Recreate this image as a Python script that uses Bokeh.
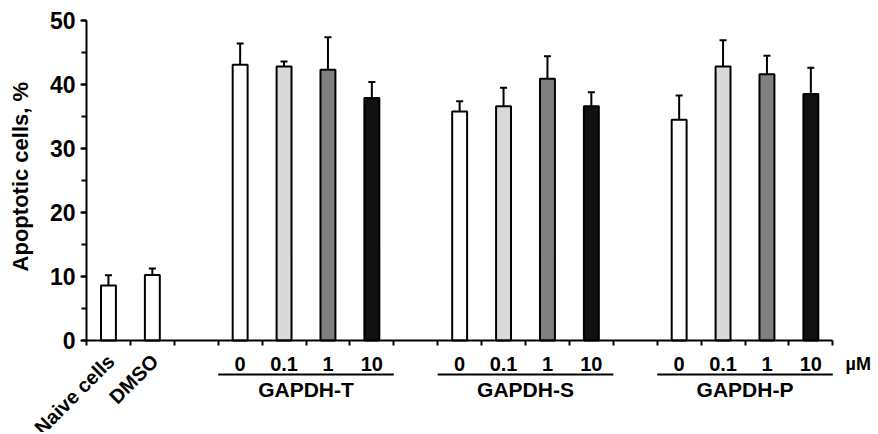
from bokeh.plotting import figure
from bokeh.models import (LinearAxis, FixedTicker, SingleIntervalTicker, Range1d,
                          ColumnDataSource, Whisker, TeeHead)
from bokeh.core.properties import value
from bokeh.embed import file_html
from bokeh.resources import INLINE

# ---------------- data ----------------
controls = ["Naive cells", "DMSO"]
control_means = [8.6, 10.25]
control_errs = [1.6, 1.0]

doses = ["0", "0.1", "1", "10"]
dose_unit = "µM"
groups = ["GAPDH-T", "GAPDH-S", "GAPDH-P"]
gapdh_t = [43.1, 42.8, 42.3, 37.9]
gapdh_t_err = [3.3, 0.8, 5.1, 2.5]
gapdh_s = [35.8, 36.6, 40.9, 36.6]
gapdh_s_err = [1.6, 2.9, 3.5, 2.2]
gapdh_p = [34.5, 42.8, 41.6, 38.5]
gapdh_p_err = [3.8, 4.1, 2.9, 4.1]

y_label = "Apoptotic cells, %"

# ---------------- styling ----------------
dose_colors = ["#ffffff", "#d9d9d9", "#808080", "#111111"]
control_color = "#ffffff"
FONT = value("Liberation Sans")

# ---------------- layout of slots ----------------
group_means = [gapdh_t, gapdh_s, gapdh_p]
group_errs = [gapdh_t_err, gapdh_s_err, gapdh_p_err]
n_ctrl = len(controls)
gsize = len(doses) + 1  # one empty slot before each group
n_slots = n_ctrl + gsize * len(groups)

xs, tops, errs, fills = [], [], [], []
for i, (m, e) in enumerate(zip(control_means, control_errs)):
    xs.append(i + 0.5); tops.append(m); errs.append(e); fills.append(control_color)
group_start, group_end, group_center = [], [], []
dose_x, dose_txt = [], []
for g in range(len(groups)):
    s0 = n_ctrl + g * gsize + 1
    group_start.append(s0)
    group_end.append(s0 + len(doses))
    group_center.append(s0 + len(doses) / 2)
    for d in range(len(doses)):
        xs.append(s0 + d + 0.5)
        tops.append(group_means[g][d])
        errs.append(group_errs[g][d])
        fills.append(dose_colors[d])
        dose_x.append(s0 + d + 0.5)
        dose_txt.append(doses[d])

src = ColumnDataSource(dict(x=xs, top=tops, upper=[t + e for t, e in zip(tops, errs)],
                            fill=fills))

# ---------------- figure ----------------
W, H = 874, 432
px_x = 43.9
px_y = 6.4
x0_canvas = 86
y0_canvas = 340
p = figure(width=W, height=H, output_backend="svg", toolbar_location=None,
           x_axis_location=None, y_axis_location=None, min_border=0,
           x_range=Range1d(-x0_canvas / px_x, (W - x0_canvas) / px_x),
           y_range=Range1d(-(H - y0_canvas) / px_y, y0_canvas / px_y))
p.outline_line_color = None
p.xgrid.visible = False
p.ygrid.visible = False
p.background_fill_color = "white"

p.vbar(x="x", top="top", width=0.34, source=src, fill_color="fill",
       line_color="black", line_width=2)

wh = Whisker(base="x", lower="top", upper="upper", source=src, dimension="height",
             line_width=2, line_color="black", lower_head=None,
             upper_head=TeeHead(size=7, line_width=2, line_color="black"))
p.add_layout(wh)

# y axis
yax = LinearAxis(fixed_location=0, bounds=(0, 50),
                 ticker=SingleIntervalTicker(interval=10, num_minor_ticks=2))
yax.axis_line_width = 2
yax.major_tick_line_width = 2
yax.minor_tick_line_width = 2
yax.major_tick_out = 6
yax.major_tick_in = 0
yax.minor_tick_out = 5
yax.minor_tick_in = 0
yax.major_label_standoff = 5
yax.major_label_text_font = "Liberation Sans"
yax.major_label_text_font_style = "bold"
yax.major_label_text_font_size = "23px"
yax.major_label_text_color = "black"
p.add_layout(yax, "left")

# x axis
xax = LinearAxis(fixed_location=0, bounds=(0, n_slots),
                 ticker=FixedTicker(ticks=list(range(n_slots + 1))))
xax.axis_line_width = 2
xax.major_tick_line_width = 2
xax.major_tick_out = 5
xax.major_tick_in = 0
xax.minor_tick_line_color = None
xax.major_label_text_font_size = "0px"
p.add_layout(xax, "below")

# y label
p.text(x=[-1.5], y=[25.6], text=[y_label], angle=1.5708, text_font=FONT,
       text_font_style="bold", text_font_size=value("22px"),
       text_align="center", text_baseline="middle", text_color="black")

# control labels, rotated
p.text(x=[i + 0.38 for i in range(n_ctrl)], y=[-1.5] * n_ctrl, text=controls,
       angle=0.7854, text_font=FONT, text_font_style="bold",
       text_font_size=value("20px"), text_align="right", text_baseline="top",
       text_color="black")

# dose labels
p.text(x=dose_x, y=[-3.6] * len(dose_x), text=dose_txt, text_font=FONT,
       text_font_style="bold", text_font_size=value("20px"),
       text_align="center", text_baseline="middle", text_color="black")
p.text(x=[n_slots + 0.58], y=[-3.6], text=[dose_unit], text_font=FONT,
       text_font_style="bold", text_font_size=value("18px"),
       text_align="center", text_baseline="middle", text_color="black")

# group underline + names
p.segment(x0=group_start, x1=group_end, y0=[-5.3] * len(groups), y1=[-5.3] * len(groups),
          line_width=2, line_color="black")
p.text(x=group_center, y=[-7.7] * len(groups), text=groups, text_font=FONT,
       text_font_style="bold", text_font_size=value("21px"),
       text_align="center", text_baseline="middle", text_color="black")

open("out.html", "w").write(file_html(p, INLINE))
